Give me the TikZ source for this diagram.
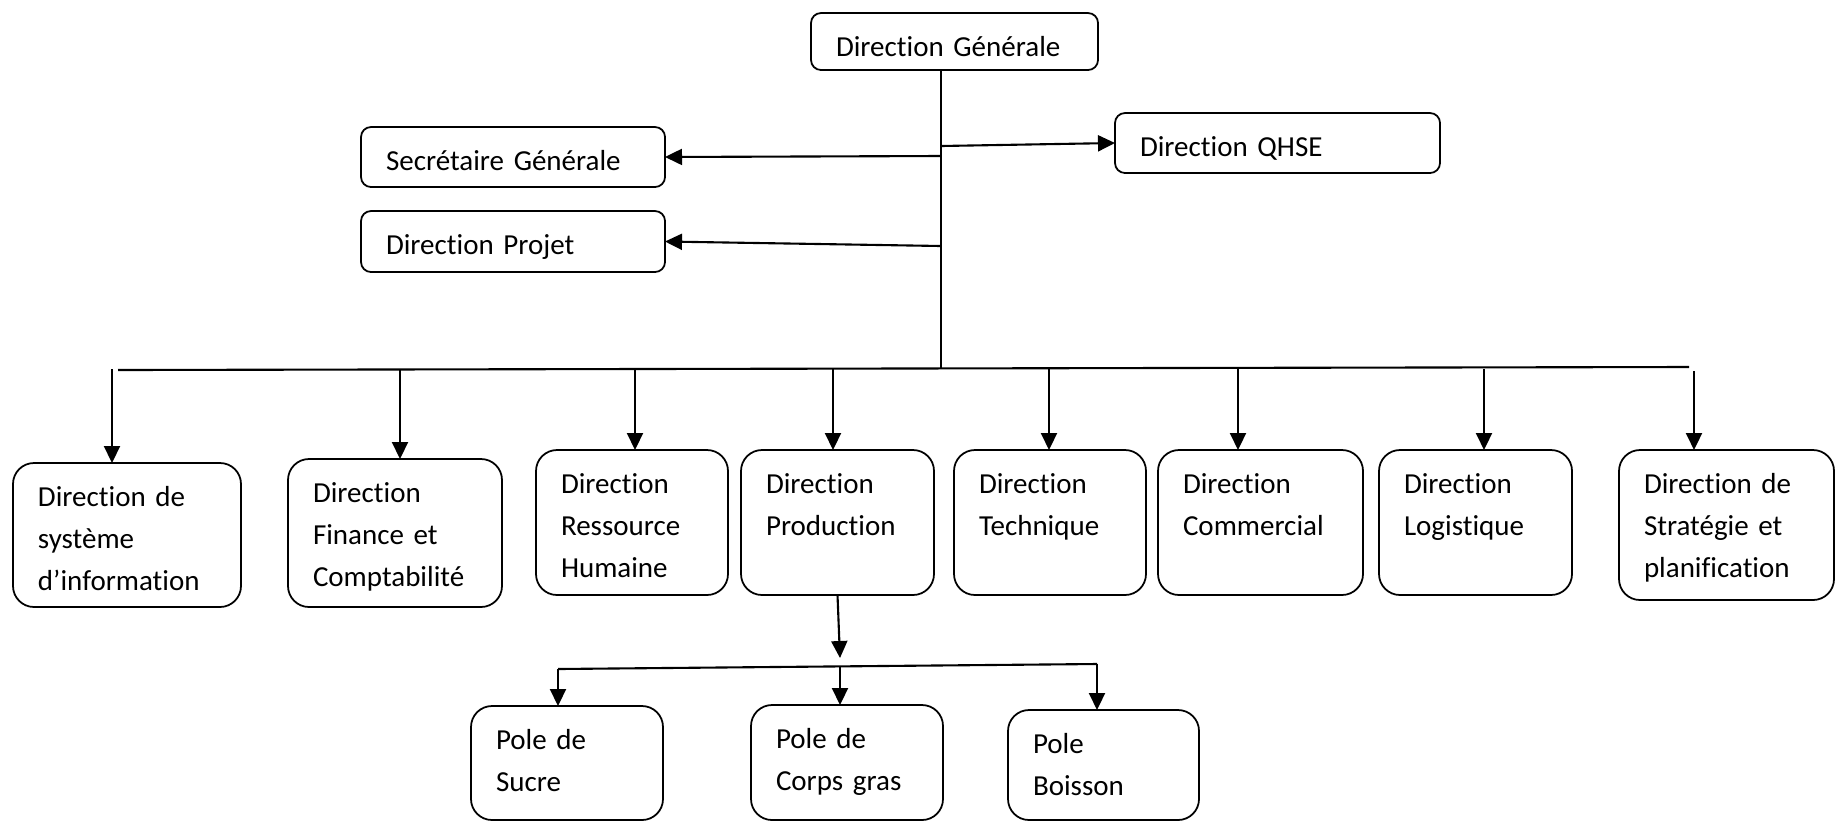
\documentclass[tikz,border=0pt]{standalone}
\usepackage{fontspec}
\setmainfont{Carlito}[RawFeature={-liga;-clig}]
\usetikzlibrary{arrows.meta}

\tikzset{
  unit/.style={draw, line width=1pt, rounded corners=#1, anchor=north west, align=left,
    inner xsep=0.5cm, inner ysep=0pt, outer sep=0pt, text height=0.86cm},
  unit/.default=0.42cm,
  link/.style={line width=1.2pt},
  arr/.style={line width=1.2pt, -{Triangle[length=0.34cm,width=0.32cm]}}
}

\begin{document}
\begin{tikzpicture}[font=\fontsize{16.5}{23.9}\selectfont]
    \useasboundingbox (0,0) rectangle (36.72,-16.44);

    % Direction et services rattachés
    \node[unit=0.2cm, text width=4.74cm, text depth=0.28cm] (dg) at (16.22,-0.26) {Direction Générale};
    \node[unit=0.2cm, text width=5.08cm, text depth=0.34cm] (sg) at (7.22,-2.54) {Secrétaire Générale};
    \node[unit=0.2cm, text width=5.50cm, text depth=0.34cm] (qhse) at (22.30,-2.26) {Direction QHSE};
    \node[unit=0.2cm, text width=5.08cm, text depth=0.36cm] (proj) at (7.22,-4.22) {Direction Projet};

    % Directions
    \node[unit, text width=3.56cm, text depth=2.02cm] (si) at (0.26,-9.26) {Direction de\\système\\d’information};
    \node[unit, text width=3.28cm, text depth=2.10cm] (fin) at (5.76,-9.18) {Direction\\Finance et\\Comptabilité};
    \node[unit, text width=2.84cm, text depth=2.04cm] (rh) at (10.72,-9.00) {Direction\\Ressource\\Humaine};
    \node[unit, text width=2.86cm, text depth=2.04cm] (prod) at (14.82,-9.00) {Direction\\Production};
    \node[unit, text width=2.84cm, text depth=2.04cm] (tech) at (19.08,-9.00) {Direction\\Technique};
    \node[unit, text width=3.10cm, text depth=2.04cm] (com) at (23.16,-9.00) {Direction\\Commercial};
    \node[unit, text width=2.86cm, text depth=2.04cm] (log) at (27.58,-9.00) {Direction\\Logistique};
    \node[unit, text width=3.30cm, text depth=2.14cm] (strat) at (32.38,-9.00) {Direction de\\Stratégie et\\planification};

    % Poles
    \node[unit, text width=2.84cm, text depth=1.42cm] (sucre) at (9.42,-14.12) {Pole de\\Sucre};
    \node[unit, text width=2.84cm, text depth=1.44cm] (corps) at (15.02,-14.10) {Pole de\\Corps gras};
    \node[unit, text width=2.82cm, text depth=1.34cm] (boisson) at (20.16,-14.20) {Pole\\Boisson};

    % Tronc
    \coordinate (t1) at (18.82,-1.40);
    \coordinate (t2) at (18.82,-7.38);
    \draw[link] (t1) -- (t2);

    % Liaisons du haut
    \coordinate (jq) at (18.82,-2.92);
    \coordinate (jsg) at (18.82,-3.12);
    \coordinate (jp) at (18.82,-4.92);
    \draw[arr] (jq) -- (qhse.west);
    \draw[arr] (jsg) -- (sg.east);
    \draw[arr] (jp) -- (proj.east);

    % Barre horizontale
    \coordinate (bl) at (2.36,-7.40);
    \coordinate (br) at (33.78,-7.34);
    \draw[link] (bl) -- (br);

    % Fleches vers les directions
    \foreach \n/\x in {si/2.24, fin/8.00, rh/12.70, prod/16.66, tech/20.98, com/24.76, log/29.68} {
        \coordinate (d\n) at (\x,-7.38);
        \draw[arr] (d\n) -- (d\n |- \n.north);
    }
    \coordinate (dstrat) at (33.88,-7.42);
    \draw[arr] (dstrat) -- (dstrat |- strat.north);

    % Production vers les poles
    \coordinate (pb) at (16.80,-13.16);
    \draw[arr] (prod.south) -- (pb);
    \coordinate (pl) at (11.16,-13.38);
    \coordinate (pc) at (16.80,-13.33);
    \coordinate (pr) at (21.94,-13.28);
    \draw[link] (pl) -- (pr);
    \draw[arr] (pl) -- (pl |- sucre.north);
    \draw[arr] (pc) -- (pc |- corps.north);
    \draw[arr] (pr) -- (pr |- boisson.north);
\end{tikzpicture}
\end{document}
